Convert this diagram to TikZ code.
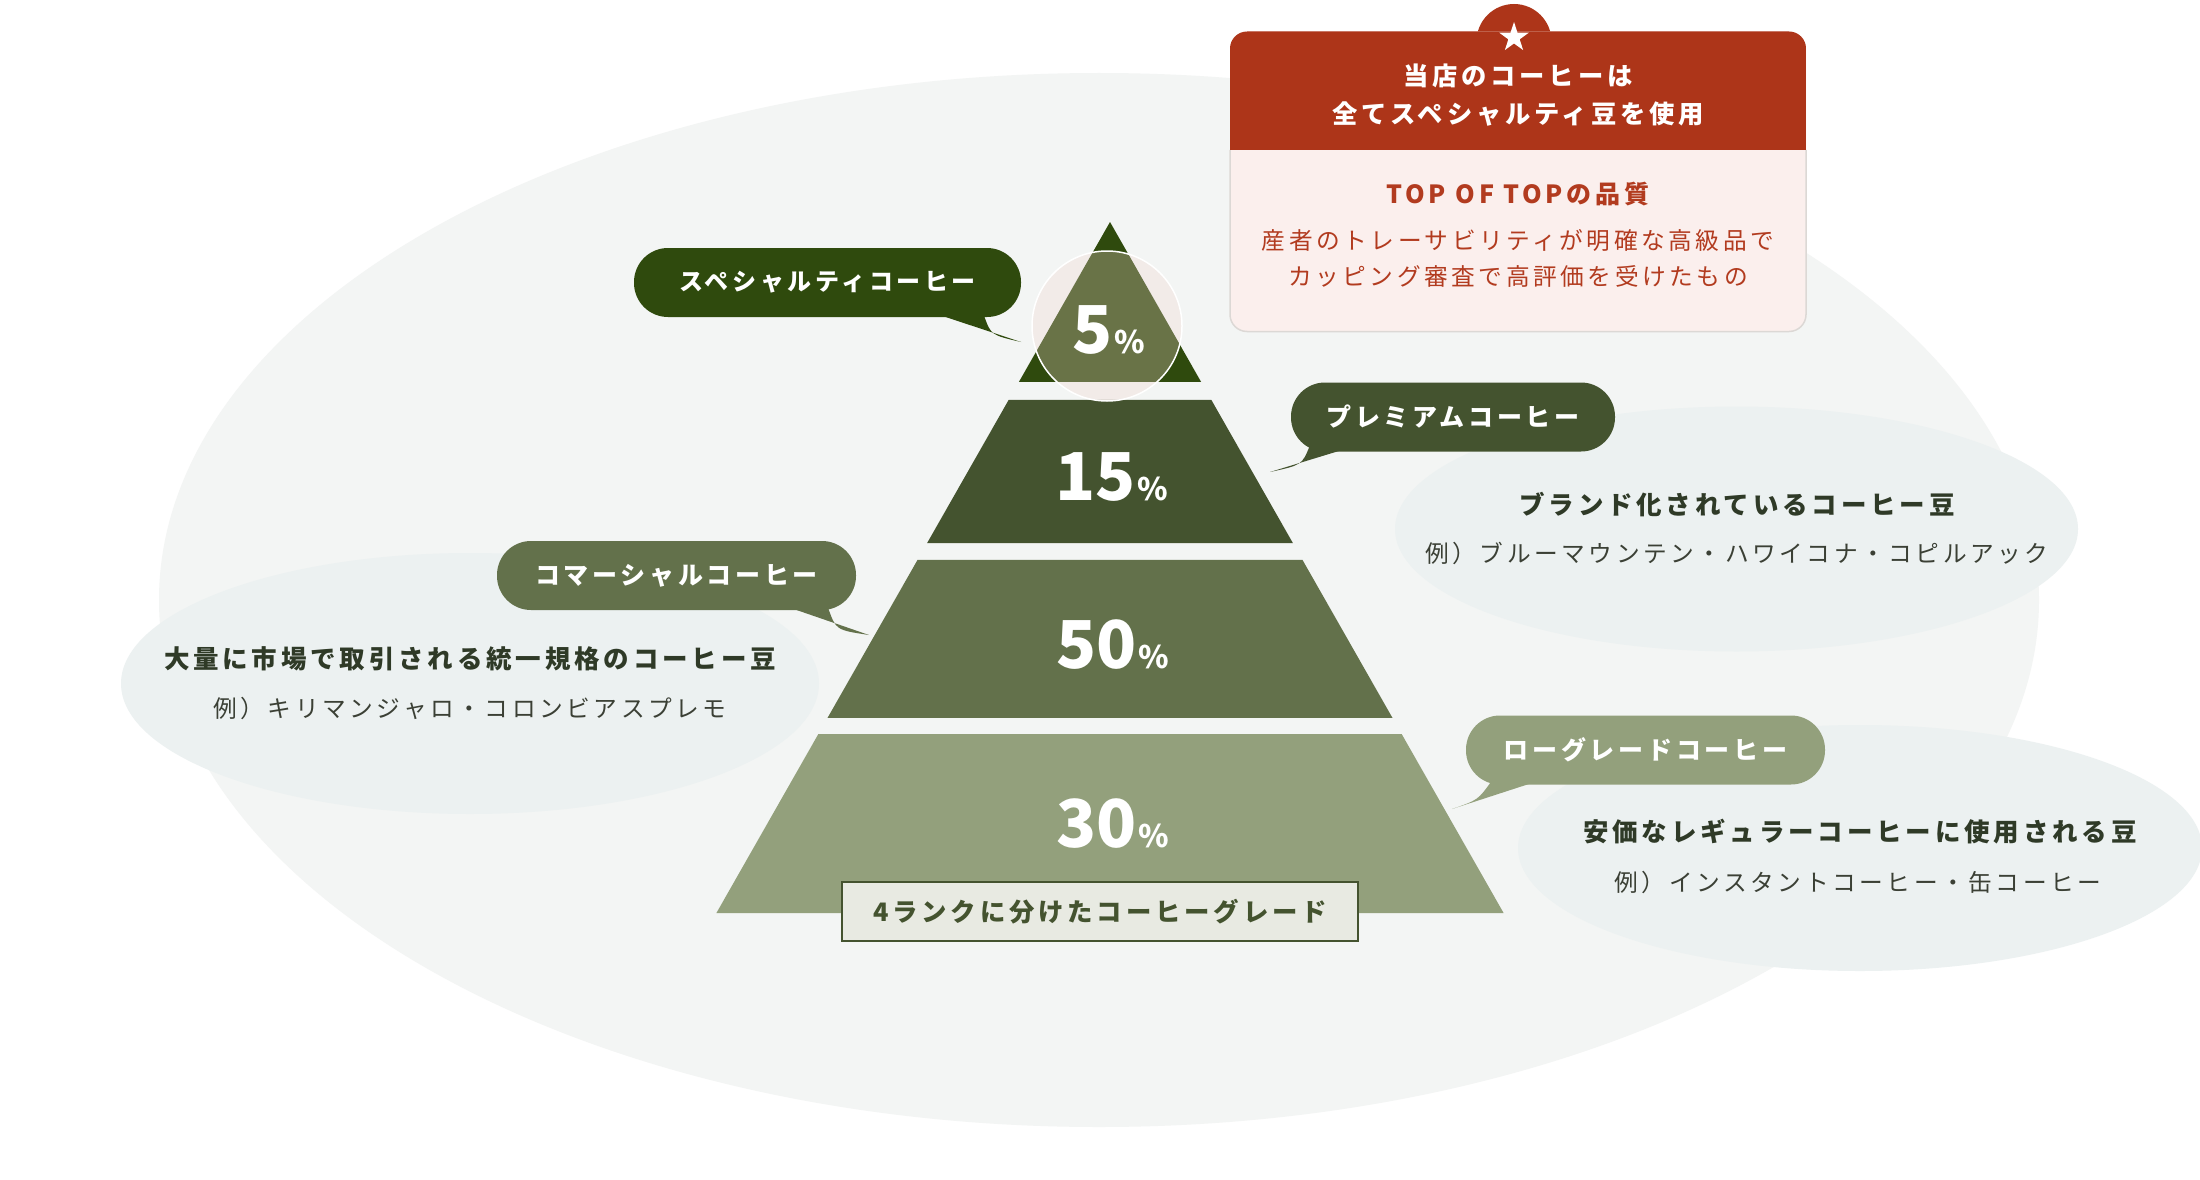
\documentclass[tikz,border=0pt]{standalone}
\usepackage{fontspec}
\setmainfont{Noto Sans CJK JP}
\newfontfamily\jpfont[LetterSpace=15]{Noto Sans CJK JP}
\newfontfamily\numfont{Noto Sans CJK JP}
\usepackage{xcolor}
\usepackage{tikz}
\usetikzlibrary{calc,shapes.geometric}
\definecolor{cfBg}{HTML}{F3F5F4}
\definecolor{cfDesc}{HTML}{ECF1F1}
\definecolor{cfTierA}{HTML}{2F4A0D}
\definecolor{cfTierB}{HTML}{44532F}
\definecolor{cfTierC}{HTML}{63714B}
\definecolor{cfTierD}{HTML}{93A07C}
\definecolor{cfRed}{HTML}{AD3519}
\definecolor{cfRedText}{HTML}{B23B1F}
\definecolor{cfPink}{HTML}{FBEFED}
\definecolor{cfEdge}{HTML}{DCD8D5}
\definecolor{cfInk}{HTML}{2F3A27}
\definecolor{cfInkSoft}{HTML}{3B4035}
\definecolor{cfBoxFill}{HTML}{E8EAE2}
\definecolor{cfGlow}{RGB}{240,212,206}

\begin{document}
\begin{tikzpicture}[x=1pt,y=-1pt,
  pill/.style={rectangle,rounded corners=34pt,minimum height=69pt,inner sep=0pt,
    text=white,font=\jpfont\bfseries\fontsize{25}{30}\selectfont},
  cloud/.style={ellipse,fill=cfDesc,inner sep=0pt},
  descmain/.style={anchor=base,inner sep=0pt,text=cfInk,font=\jpfont\bfseries\fontsize{25.5}{30}\selectfont},
  descnote/.style={anchor=base,inner sep=0pt,text=cfInkSoft,font=\jpfont\fontsize{23.7}{28}\selectfont},
  pct/.style={anchor=base,inner sep=0pt,text=white,font=\numfont\bfseries},
  cardhead/.style={anchor=base,inner sep=0pt,text=white,font=\jpfont\bfseries\fontsize{25.3}{30}\selectfont},
  cardline/.style={anchor=base,inner sep=0pt,text=cfRedText,font=\jpfont\fontsize{23.7}{28}\selectfont}
]
\fill[white] (0,0) rectangle (2200,1180);
\useasboundingbox (0,0) rectangle (2200,1180);
% backdrop
\fill[cfBg] (1099,600) ellipse [x radius=940pt,y radius=527pt];

% description clouds
\node[cloud,minimum width=683pt,minimum height=245pt] (prmCloud) at (1736.5,529) {};
\node[cloud,minimum width=698pt,minimum height=261pt] (cmrCloud) at (470,683.5) {};
\node[cloud,minimum width=684pt,minimum height=246pt] (lowCloud) at (1860,848) {};

% pyramid
\coordinate (apex) at (1110,222);
\coordinate (baseL) at (716.4,913);
\coordinate (baseR) at (1503.6,913);
\fill[cfTierA] (apex) -- ($(apex)!{160/691}!(baseL)$) -- ($(apex)!{160/691}!(baseR)$) -- cycle;
\foreach \ya/\yb/\tcol in {400/543/cfTierB,560/718/cfTierC,734/913/cfTierD}
  \fill[\tcol] ($(apex)!{(\ya-222)/691}!(baseL)$) -- ($(apex)!{(\yb-222)/691}!(baseL)$)
    -- ($(apex)!{(\yb-222)/691}!(baseR)$) -- ($(apex)!{(\ya-222)/691}!(baseR)$) -- cycle;
\node[circle,minimum size=150pt,inner sep=0pt,draw=white,line width=1.5pt,
  fill=cfGlow,fill opacity=0.3] (topRing) at (1107,326) {};

% shares
\node[pct] (pctA) at (1109,353) {\fontsize{66}{66}\selectfont 5\kern2pt\fontsize{31}{31}\selectfont\%};
\node[pct] (pctB) at (1112,500) {\fontsize{66}{66}\selectfont 15\kern2pt\fontsize{31}{31}\selectfont\%};
\node[pct] (pctC) at (1113,668) {\fontsize{66}{66}\selectfont 50\kern2pt\fontsize{31}{31}\selectfont\%};
\node[pct] (pctD) at (1113,847) {\fontsize{66}{66}\selectfont 30\kern2pt\fontsize{31}{31}\selectfont\%};

% grade labels
\node[pill,fill=cfTierA,minimum width=387pt,font=\jpfont\bfseries\fontsize{24}{30}\selectfont]
  (spcLabel) at (827.5,282.5) {スペシャルティコーヒー};
\node[pill,fill=cfTierB,minimum width=324pt] (prmLabel) at (1453,417) {プレミアムコーヒー};
\node[pill,fill=cfTierC,minimum width=359pt] (cmrLabel) at (676.5,575.5) {コマーシャルコーヒー};
\node[pill,fill=cfTierD,minimum width=359pt] (lowLabel) at (1645.5,750) {ローグレードコーヒー};

% label tails
\coordinate (spcTip) at (1021,342);
\coordinate (prmTip) at (1270,472);
\coordinate (cmrTip) at (869,635);
\coordinate (lowTip) at (1452,809);
\fill[cfTierA] ($(spcLabel.south east)+(-78,-1)$) -- (spcTip)
  .. controls (991,335) .. ($(spcLabel.south east)+(-37,-1)$) -- cycle;
\fill[cfTierB] ($(prmLabel.south west)+(49,-1)$) -- (prmTip)
  .. controls (1302,465) .. ($(prmLabel.south west)+(19,-6)$) -- cycle;
\fill[cfTierC] ($(cmrLabel.south east)+(-62,-1)$) -- (cmrTip)
  .. controls (836,630) .. ($(cmrLabel.south east)+(-28,-2)$) -- cycle;
\fill[cfTierD] ($(lowLabel.south west)+(64,-1)$) -- (lowTip)
  .. controls (1478,800) .. ($(lowLabel.south west)+(26,-4)$) -- cycle;

% descriptions
\node[descmain] (prmMain) at (1737,514) {ブランド化されているコーヒー豆};
\node[descnote] (prmNote) at (1737,562) {例）ブルーマウンテン・ハワイコナ・コピルアック};
\node[descmain] (cmrMain) at (470,668) {大量に市場で取引される統一規格のコーヒー豆};
\node[descnote] (cmrNote) at (470,717) {例）キリマンジャロ・コロンビアスプレモ};
\node[descmain] (lowMain) at (1860,841) {安価なレギュラーコーヒーに使用される豆};
\node[descnote] (lowNote) at (1858,891) {例）インスタントコーヒー・缶コーヒー};

% caption box
\node[draw=cfTierB,line width=2.5pt,fill=cfBoxFill,minimum width=516pt,minimum height=59pt,
  inner sep=0pt,text=cfTierB,font=\jpfont\bfseries\fontsize{25.4}{30}\selectfont]
  (gradeCaption) at (1100,911.5) {4ランクに分けたコーヒーグレード};

% shop card
\fill[cfRed] (1514,41.5) circle (37.5pt);
\fill[cfPink] [rounded corners=17pt] (1230,31.5) rectangle (1806,331.5);
\draw[cfEdge,line width=1.5pt,rounded corners=17pt] (1230,150) -- (1230,331.5) -- (1806,331.5) -- (1806,150);
\begin{scope}
  \clip[rounded corners=17pt] (1230,31.5) rectangle (1806,331.5);
  \fill[cfRed] (1230,31.5) rectangle (1806,150);
\end{scope}
\node[star,star points=5,star point ratio=2.6,fill=white,minimum size=31pt,inner sep=0pt]
  (cardStar) at (1514,37.5) {};
\node[cardhead] (cardHeadA) at (1518,86) {当店のコーヒーは};
\node[cardhead] (cardHeadB) at (1518,124) {全てスペシャルティ豆を使用};
\node[cardline,font=\jpfont\bfseries\fontsize{25}{30}\selectfont] (cardTitle) at (1518,203) {TOP OF TOPの品質};
\node[cardline] (cardBodyA) at (1518,249) {産者のトレーサビリティが明確な高級品で};
\node[cardline] (cardBodyB) at (1518,285) {カッピング審査で高評価を受けたもの};
\end{tikzpicture}
\end{document}
